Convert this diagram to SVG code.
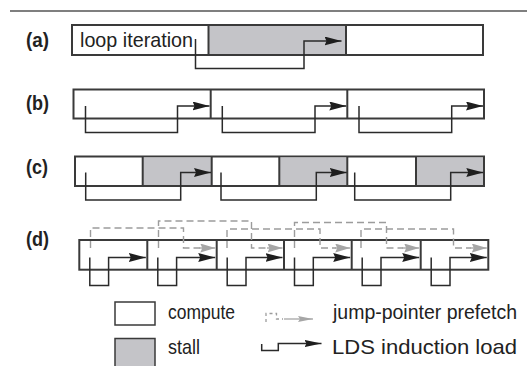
<svg xmlns="http://www.w3.org/2000/svg" width="527" height="366" viewBox="0 0 527 366">
<style>
  .box{fill:#ffffff;stroke:#3a3a3a;stroke-width:2}
  .stall{fill:#c4c4c8;stroke:none}
  .div{stroke:#3a3a3a;stroke-width:2;fill:none}
  .ld{fill:none;stroke:#2a2a2a;stroke-width:1.5}
  .pf{fill:none;stroke:#9c9c9c;stroke-width:1.4;stroke-dasharray:7,4}
  .lbl{font-family:"Liberation Sans",Arial,sans-serif;font-weight:bold;font-size:20px;fill:#222}
  .txt{font-family:"Liberation Sans",Arial,sans-serif;font-size:21px;fill:#222}
</style>
<defs>
  <marker id="ah" markerUnits="userSpaceOnUse" markerWidth="18" markerHeight="10" refX="17" refY="4.5" orient="auto">
    <path d="M0,0 L17,4.5 L0,9 L2,4.5 z" fill="#1e1e1e"/>
  </marker>
  <marker id="ahg" markerUnits="userSpaceOnUse" markerWidth="16" markerHeight="10" refX="15" refY="4.5" orient="auto">
    <path d="M0,0 L15,4.5 L0,9 L2,4.5 z" fill="#a6a6a6"/>
  </marker>
  <marker id="ahs" markerUnits="userSpaceOnUse" markerWidth="18" markerHeight="8" refX="17" refY="3.5" orient="auto">
    <path d="M0,0 L17,3.5 L0,7 L2,3.5 z" fill="#1e1e1e"/>
  </marker>
  <marker id="ahgs" markerUnits="userSpaceOnUse" markerWidth="16" markerHeight="8" refX="15" refY="3" orient="auto">
    <path d="M0,0 L15,3 L0,6 L2,3 z" fill="#a6a6a6"/>
  </marker>
</defs>

<line x1="10" y1="11" x2="527" y2="11" stroke="#555" stroke-width="1.5"/>

<!-- (a) -->
<g id="row-a">
  <text class="lbl" x="26" y="47" textLength="23" lengthAdjust="spacingAndGlyphs">(a)</text>
  <rect class="box" x="72" y="25" width="411" height="30"/>
  <rect class="stall" x="208.5" y="26" width="137.5" height="28"/>
  <line class="div" x1="208.5" y1="25" x2="208.5" y2="55"/>
  <line class="div" x1="346" y1="25" x2="346" y2="55"/>
  <text class="txt" x="80" y="47" textLength="113" lengthAdjust="spacingAndGlyphs">loop iteration</text>
</g>

<!-- (b) -->
<g id="row-b">
  <text class="lbl" x="26" y="110" textLength="23" lengthAdjust="spacingAndGlyphs">(b)</text>
  <rect class="box" x="73.5" y="89.5" width="410.5" height="29"/>
  <line class="div" x1="210.7" y1="89.5" x2="210.7" y2="118.5"/>
  <line class="div" x1="347.3" y1="89.5" x2="347.3" y2="118.5"/>
</g>

<!-- (c) -->
<g id="row-c">
  <text class="lbl" x="26" y="174" textLength="22" lengthAdjust="spacingAndGlyphs">(c)</text>
  <rect class="box" x="75" y="156.5" width="409" height="29.5"/>
  <rect class="stall" x="142.7" y="157.5" width="69" height="27.5"/>
  <rect class="stall" x="279.3" y="157.5" width="68" height="27.5"/>
  <rect class="stall" x="416" y="157.5" width="67" height="27.5"/>
  <path class="div" d="M142.7,156.5V186M211.7,156.5V186M279.3,156.5V186M347.3,156.5V186M416,156.5V186"/>
</g>

<!-- (d) -->
<g id="row-d">
  <text class="lbl" x="26" y="246" textLength="23" lengthAdjust="spacingAndGlyphs">(d)</text>
  <rect class="box" x="79.3" y="240" width="409" height="29.7"/>
  <path class="div" d="M147.3,240V269.7M216.7,240V269.7M284,240V269.7M351.7,240V269.7M420.7,240V269.7"/>
</g>

<!-- legend -->
<g id="legend-compute">
  <rect class="box" x="115" y="302" width="40" height="23" style="stroke-width:1.5"/>
  <text class="txt" x="168" y="319" textLength="67" lengthAdjust="spacingAndGlyphs">compute</text>
</g>
<g id="legend-stall">
  <rect x="115" y="338.5" width="40" height="30" fill="#c4c4c8" stroke="#3a3a3a" stroke-width="1.5"/>
  <text class="txt" x="168" y="354" textLength="32" lengthAdjust="spacingAndGlyphs">stall</text>
</g>
<g id="legend-prefetch">
  <path d="M266,322 V313.5 H276.5 V319 H283" fill="none" stroke="#9c9c9c" stroke-width="1.3" stroke-dasharray="3,3"/>
  <path d="M284,319 H313" fill="none" stroke="#a6a6a6" stroke-width="1.3" marker-end="url(#ahgs)"/>
  <text class="txt" x="333" y="319" textLength="184" lengthAdjust="spacingAndGlyphs" style="font-size:19.5px">jump-pointer prefetch</text>
</g>
<g id="legend-lds">
  <path class="ld" d="M261.7,344 V350.5 H278.3 V343.5 H321.5" marker-end="url(#ahs)"/>
  <text class="txt" x="332" y="354" textLength="185" lengthAdjust="spacingAndGlyphs">LDS induction load</text>
</g>

<!-- connectors -->
<g id="connectors">
  <!-- (a) -->
  <path class="ld" d="M195.5,39 V68.5 H304 V41 H341.5" marker-end="url(#ah)"/>
  <!-- (b) -->
  <path class="ld" d="M85.5,106 V132.5 H177.5 V106 H209.5" marker-end="url(#ah)"/>
  <path class="ld" d="M222.3,106 V132.5 H315 V106 H346.3" marker-end="url(#ah)"/>
  <path class="ld" d="M359,106 V132.5 H451.7 V106 H483" marker-end="url(#ah)"/>
  <!-- (c) -->
  <path class="ld" d="M85.7,172.5 V200 H180.7 V172.5 H211" marker-end="url(#ah)"/>
  <path class="ld" d="M221,172.5 V200 H316.3 V172.5 H346.8" marker-end="url(#ah)"/>
  <path class="ld" d="M354.7,172.5 V200 H450.7 V172.5 H483.3" marker-end="url(#ah)"/>
  <!-- (d) prefetches -->
  <path class="pf" d="M90.5,248 V228 H183.5 V248 H200"/>
  <path class="pf" d="M158.5,248 V221 H251.5 V248 H268"/>
  <path class="pf" d="M227,248 V229 H320 V248 H336"/>
  <path class="pf" d="M294.5,248 V222.5 H386.5 V248 H403"/>
  <path class="pf" d="M361,248 V229 H453.5 V248 H471"/>
  <path d="M199,248 H215.3" fill="none" stroke="#a6a6a6" stroke-width="1.4" marker-end="url(#ahg)"/>
  <path d="M267,248 H282.5" fill="none" stroke="#a6a6a6" stroke-width="1.4" marker-end="url(#ahg)"/>
  <path d="M335,248 H350.2" fill="none" stroke="#a6a6a6" stroke-width="1.4" marker-end="url(#ahg)"/>
  <path d="M402,248 H419.2" fill="none" stroke="#a6a6a6" stroke-width="1.4" marker-end="url(#ahg)"/>
  <path d="M470,248 H486.8" fill="none" stroke="#a6a6a6" stroke-width="1.4" marker-end="url(#ahg)"/>
  <!-- (d) LDS loads -->
  <path class="ld" d="M89.8,257.5 V285.5 H108.6 V257.5 H145.8" marker-end="url(#ah)"/>
  <path class="ld" d="M157.8,257.5 V285.5 H176.6 V257.5 H215.2" marker-end="url(#ah)"/>
  <path class="ld" d="M227.2,257.5 V285.5 H246 V257.5 H282.5" marker-end="url(#ah)"/>
  <path class="ld" d="M294.5,257.5 V285.5 H313.3 V257.5 H350.2" marker-end="url(#ah)"/>
  <path class="ld" d="M362.2,257.5 V285.5 H381 V257.5 H419.2" marker-end="url(#ah)"/>
  <path class="ld" d="M431.2,257.5 V285.5 H450 V257.5 H486.8" marker-end="url(#ah)"/>
</g>
</svg>
